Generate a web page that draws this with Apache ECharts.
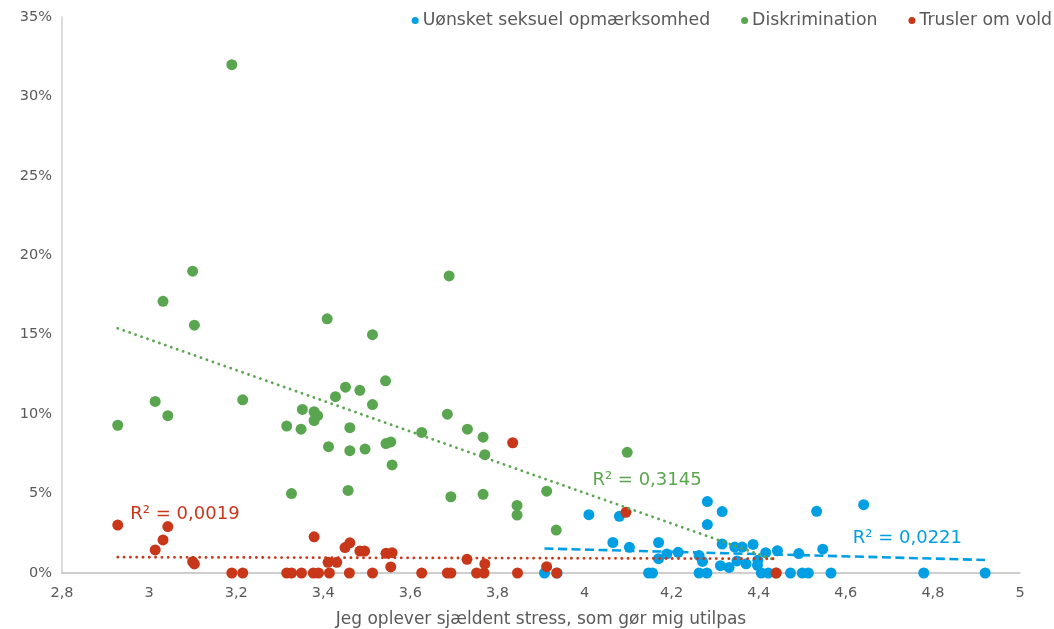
<!DOCTYPE html>
<html>
<head>
<meta charset="utf-8">
<script src="https://cdn.jsdelivr.net/npm/echarts@6/dist/echarts.min.js"></script>
<style>
  html, body { margin: 0; padding: 0; background: #fff; }
  #chart { width: 1054px; height: 629px; }
</style>
</head>
<body>
<div id="chart"></div>
<script>
// Series names (legend order)
const seriesNames = ['Uønsket seksuel opmærksomhed', 'Diskrimination', 'Trusler om vold'];
const seriesColors = ['#009fe3', '#5aa54f', '#c8371a'];

// Uønsket seksuel opmærksomhed: x = stress score, y = share in %
const blueX = [3.908, 3.937, 4.010, 4.080, 4.065, 4.103, 4.147, 4.156, 4.170, 4.170,
               4.189, 4.215, 4.263, 4.271, 4.263, 4.281, 4.282, 4.316, 4.282, 4.316,
               4.312, 4.332, 4.345, 4.362, 4.350, 4.371, 4.387, 4.398, 4.397, 4.406,
               4.422, 4.416, 4.443, 4.473, 4.492, 4.500, 4.514, 4.533, 4.547, 4.566,
               4.641, 4.779, 4.920];
const blueY = [0, 0, 3.67, 3.57, 1.92, 1.62, 0, 0, 1.92, 0.90,
               1.20, 1.30, 1.10, 0.73, 0, 0, 4.50, 3.87, 3.05, 1.82,
               0.46, 0.35, 1.63, 1.63, 0.76, 0.58, 1.80, 0.80, 0.48, 0,
               0, 1.28, 1.40, 0, 1.22, 0, 0, 3.88, 1.50, 0,
               4.30, 0, 0];

// Diskrimination
const greenX = [2.928, 3.014, 3.032, 3.043, 3.100, 3.104, 3.190, 3.215, 3.316, 3.327,
                3.352, 3.349, 3.379, 3.387, 3.379, 3.409, 3.412, 3.428, 3.451, 3.461,
                3.461, 3.457, 3.484, 3.496, 3.513, 3.513, 3.543, 3.544, 3.555, 3.558,
                3.626, 3.685, 3.689, 3.693, 3.731, 3.767, 3.771, 3.767, 3.845, 3.845,
                3.913, 3.935, 4.098, 4.440];
const greenY = [9.30, 10.80, 17.10, 9.90, 19.00, 15.60, 32.00, 10.90, 9.25, 5.00,
                10.30, 9.05, 10.15, 9.90, 9.60, 16.00, 7.95, 11.10, 11.70, 9.15,
                7.70, 5.20, 11.50, 7.80, 15.00, 10.60, 12.10, 8.15, 8.25, 6.80,
                8.85, 10.00, 18.70, 4.80, 9.05, 8.55, 7.45, 4.95, 4.25, 3.65,
                5.15, 2.70, 7.60, 0];

// Trusler om vold
const redX = [2.928, 3.014, 3.032, 3.043, 3.100, 3.104, 3.190, 3.215, 3.316, 3.327,
              3.350, 3.377, 3.389, 3.379, 3.411, 3.431, 3.414, 3.450, 3.461, 3.460,
              3.484, 3.495, 3.513, 3.544, 3.558, 3.555, 3.626, 3.685, 3.693, 3.730,
              3.752, 3.769, 3.771, 3.835, 3.846, 3.913, 3.936, 4.095, 4.440];
const redY = [3.02, 1.45, 2.08, 2.92, 0.71, 0.57, 0, 0, 0, 0,
              0, 0, 0, 2.28, 0.67, 0.67, 0, 1.60, 1.90, 0,
              1.38, 1.38, 0, 1.24, 1.28, 0.38, 0, 0, 0, 0.86,
              0, 0, 0.57, 8.20, 0, 0.40, 0, 3.82, 0];

// Coefficient of determination shown next to each trendline
const rSquaredLabels = ['R² = 0,0221', 'R² = 0,3145', 'R² = 0,0019'];

// Axis ticks
const xMin = 2.8, xMax = 5, xStep = 0.2;
const yMin = 0, yMax = 35, yStep = 5;

const FONT = '"DejaVu Sans", Verdana, sans-serif';
const TEXT = '#595959';

function pairs(xs, ys) { return xs.map((x, i) => [x, ys[i]]); }

// Ordinary least squares line over the series' x range
function trend(xs, ys) {
  const n = xs.length;
  const mx = xs.reduce((a, b) => a + b, 0) / n;
  const my = ys.reduce((a, b) => a + b, 0) / n;
  let sxy = 0, sxx = 0;
  for (let i = 0; i < n; i++) { sxy += (xs[i] - mx) * (ys[i] - my); sxx += (xs[i] - mx) ** 2; }
  const b = sxy / sxx, a = my - b * mx;
  const x0 = Math.min(...xs), x1 = Math.max(...xs);
  return [[x0, a + b * x0], [x1, a + b * x1]];
}

const allX = [blueX, greenX, redX];
const allY = [blueY, greenY, redY];

const scatterSeries = seriesNames.map((name, i) => ({
  name: name,
  type: 'scatter',
  symbol: 'circle',
  symbolSize: 11,
  itemStyle: { color: seriesColors[i], opacity: 1 },
  z: 2 + i,
  data: pairs(allX[i], allY[i])
}));

const lineTypes = [[9, 4.5], [0.1, 6.2], [0.1, 6.2]];
const trendSeries = seriesNames.map((name, i) => ({
  name: name + ' trend',
  type: 'line',
  symbol: 'none',
  silent: true,
  z: 10,
  lineStyle: { color: seriesColors[i], width: i === 0 ? 2.6 : 2.8, type: lineTypes[i], cap: i === 0 ? 'butt' : 'round' },
  data: trend(allX[i], allY[i])
}));

const chart = echarts.init(document.getElementById('chart'), null, { renderer: 'canvas' });
chart.setOption({
  animation: false,
  backgroundColor: '#ffffff',
  textStyle: { fontFamily: FONT },
  grid: { left: 62, right: 34, top: 17, bottom: 56, containLabel: false, outerBoundsMode: 'none' },
  legend: {
    data: seriesNames.map((n, i) => ({ name: n, itemStyle: { color: seriesColors[i] } })),
    top: 12,
    right: 2,
    padding: 0,
    icon: 'circle',
    itemWidth: 7,
    itemHeight: 7,
    itemGap: 31,
    textStyle: { color: TEXT, fontSize: 17.3, fontFamily: FONT, padding: [0, 0, 0, -1] }
  },
  xAxis: {
    type: 'value',
    min: xMin, max: xMax, interval: xStep,
    name: 'Jeg oplever sjældent stress, som gør mig utilpas',
    nameLocation: 'middle',
    nameGap: 38,
    nameTextStyle: { color: TEXT, fontSize: 17, fontFamily: FONT },
    axisLine: { show: true, onZero: false, lineStyle: { color: '#bfbfbf', width: 1.5 } },
    axisTick: { show: false },
    splitLine: { show: false },
    axisLabel: {
      color: TEXT, fontSize: 14.5, fontFamily: FONT, margin: 13,
      formatter: v => String(+v.toFixed(1)).replace('.', ',')
    }
  },
  yAxis: {
    type: 'value',
    min: yMin, max: yMax, interval: yStep,
    axisLine: { show: true, lineStyle: { color: '#d0d0d0', width: 1.5 } },
    axisTick: { show: false },
    splitLine: { show: false },
    axisLabel: { color: TEXT, fontSize: 14.5, fontFamily: FONT, margin: 10, formatter: v => v + '%' }
  },
  series: scatterSeries.concat(trendSeries)
});

// Trendline R² labels, placed next to their lines
const labelAnchors = [[4.616, 2.2], [4.018, 5.85], [2.957, 3.7]];
chart.setOption({
  graphic: labelAnchors.map((p, i) => {
    const px = chart.convertToPixel({ gridIndex: 0 }, p);
    return {
      type: 'text',
      x: px[0], y: px[1],
      style: { text: rSquaredLabels[i], fill: seriesColors[i], fontSize: 18, fontFamily: FONT, textVerticalAlign: 'middle' },
      z: 20
    };
  })
});
</script>
</body>
</html>
